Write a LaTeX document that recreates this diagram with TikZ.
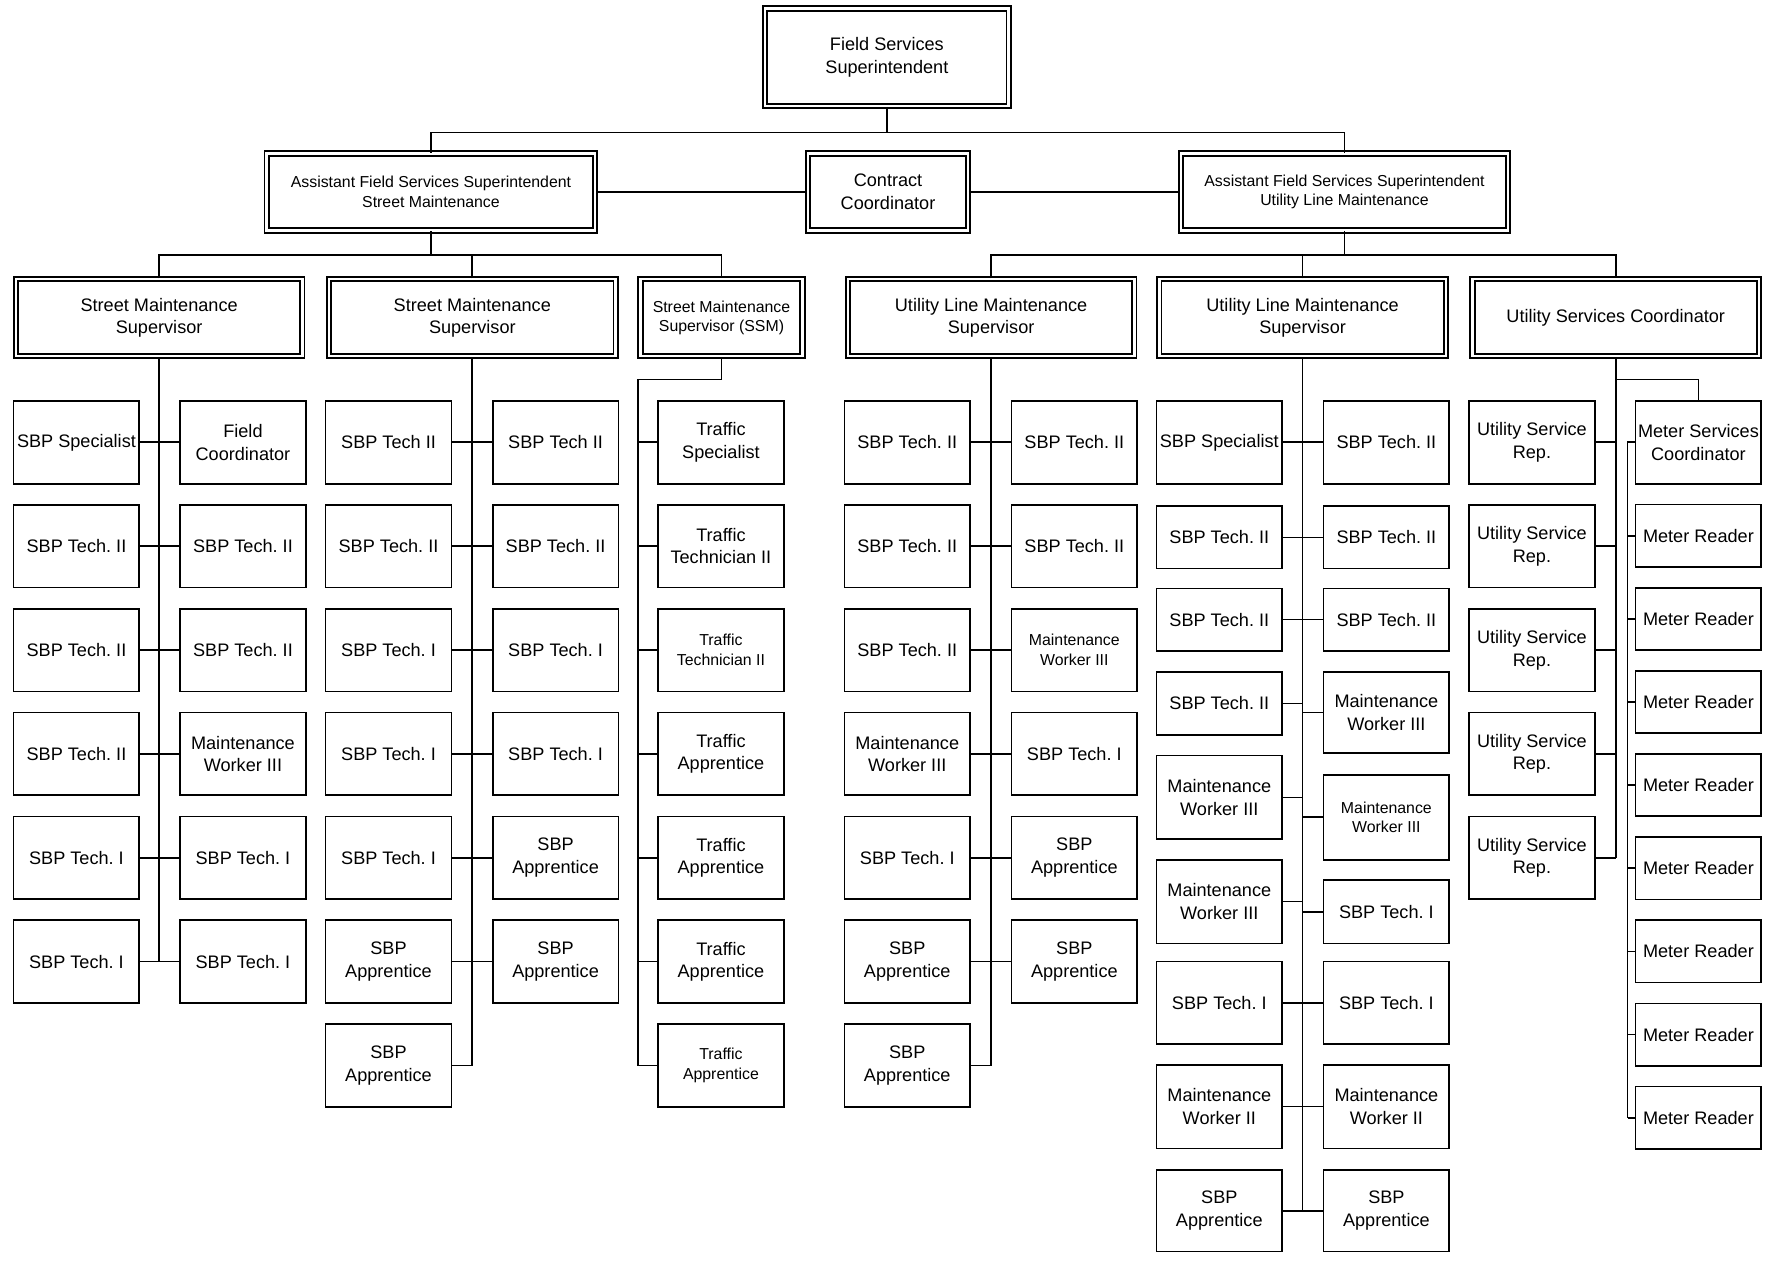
\documentclass[tikz,border=0pt]{standalone}
\usepackage{fontspec}
\setmainfont{Liberation Sans}
\usetikzlibrary{positioning}
\frenchspacing

\newcommand{\jobfont}{\fontsize{8}{10}\selectfont}
\newcommand{\jobfontsm}{\fontsize{7}{8.6}\selectfont}

\tikzset{
  job/.style={draw, line width=0.75pt, minimum width=55.5pt, minimum height=36.5pt,
    inner sep=0pt, align=center, font=\jobfont},
  jobsm/.style={job, font=\jobfontsm},
  lead/.style={draw, double, double distance=1.1pt, line width=0.8pt,
    inner sep=0pt, align=center, font=\jobfont, minimum height=34pt},
  link/.style={line width=0.75pt},
}

\begin{document}
\begin{tikzpicture}[x=0.5pt, y=-0.5pt]
  \useasboundingbox (0,0) rectangle (1568,1115);

  % Superintendent and assistants
  \node[lead, minimum width=107.5pt, minimum height=43pt] (fss) at (783,50.5) {Field Services\\Superintendent};
  \node[lead, minimum width=145pt, font=\jobfontsm] (afsm) at (380.5,169.5) {Assistant Field Services Superintendent\\Street Maintenance};
  \node[lead, minimum width=70.5pt] (cc) at (784,169.5) {Contract\\Coordinator};
  \node[lead, minimum width=144.5pt, font=\jobfontsm] (afum) at (1187,169.5) {Assistant Field Services Superintendent\\Utility Line Maintenance};

  % Supervisors
  \node[lead, minimum width=126.5pt] (sms1) at (140.5,280.5) {Street Maintenance\\Supervisor};
  \node[lead, minimum width=126.5pt] (sms2) at (417,280.5) {Street Maintenance\\Supervisor};
  \node[lead, minimum width=71.5pt, font=\jobfontsm] (ssm) at (637,280.5) {Street Maintenance\\Supervisor (SSM)};
  \node[lead, minimum width=126.5pt] (ulm1) at (875,280.5) {Utility Line Maintenance\\Supervisor};
  \node[lead, minimum width=126.5pt] (ulm2) at (1150,280.5) {Utility Line Maintenance\\Supervisor};
  \node[lead, minimum width=126.5pt] (usc) at (1426.5,280.5) {Utility Services Coordinator};

  % Upper connectors
  \coordinate (topbus) at (783,117);
  \draw[link] (fss.south) -- (topbus);
  \draw[link] (afsm.north) |- (topbus) -| (afum.north);
  \draw[link] (afsm.east) -- (cc.west);
  \draw[link] (cc.east) -- (afum.west);

  \coordinate (stbus) at (380.5,225);
  \draw[link] (afsm.south) -- (stbus);
  \draw[link] (sms1.north) |- (stbus) -| (ssm.north);
  \draw[link] (sms2.north) -- (sms2.north |- stbus);

  \coordinate (utbus) at (1187,225);
  \draw[link] (afum.south) -- (utbus);
  \draw[link] (ulm1.north) |- (utbus) -| (usc.north);
  \draw[link] (ulm2.north) -- (ulm2.north |- utbus);

  % Street maintenance, first crew
  \foreach \r/\y/\lbl in {1/390.5/SBP Specialist, 2/482.2/SBP Tech. II, 3/573.9/SBP Tech. II,
                          4/665.6/SBP Tech. II, 5/757.3/SBP Tech. I, 6/849/SBP Tech. I} {
    \node[job] (s1l\r) at (67.5,\y) {\lbl};
    \draw[link] (s1l\r.east) -- (s1l\r.east -| sms1.south);
  }
  \foreach \r/\y/\lbl in {1/390.5/{Field\\Coordinator}, 2/482.2/SBP Tech. II, 3/573.9/SBP Tech. II,
                          4/665.6/{Maintenance\\Worker III}, 5/757.3/SBP Tech. I, 6/849/SBP Tech. I} {
    \node[job] (s1r\r) at (214.5,\y) {\lbl};
    \draw[link] (s1r\r.west) -- (s1r\r.west -| sms1.south);
  }
  \draw[link] (sms1.south) -- (sms1.south |- s1l6.east);

  % Street maintenance, second crew
  \foreach \r/\y/\lbl in {1/390.5/SBP Tech II, 2/482.2/SBP Tech. II, 3/573.9/SBP Tech. I,
                          4/665.6/SBP Tech. I, 5/757.3/SBP Tech. I, 6/849/{SBP\\Apprentice},
                          7/940.7/{SBP\\Apprentice}} {
    \node[job] (s2l\r) at (343,\y) {\lbl};
    \draw[link] (s2l\r.east) -- (s2l\r.east -| sms2.south);
  }
  \foreach \r/\y/\lbl in {1/390.5/SBP Tech II, 2/482.2/SBP Tech. II, 3/573.9/SBP Tech. I,
                          4/665.6/SBP Tech. I, 5/757.3/{SBP\\Apprentice}, 6/849/{SBP\\Apprentice}} {
    \node[job] (s2r\r) at (490.5,\y) {\lbl};
    \draw[link] (s2r\r.west) -- (s2r\r.west -| sms2.south);
  }
  \draw[link] (sms2.south) -- (sms2.south |- s2l7.east);

  % Traffic crew
  \coordinate (ssmbend) at (563,335);
  \foreach \r/\y/\st/\lbl in {1/390.5/job/{Traffic\\Specialist}, 2/482.2/job/{Traffic\\Technician II},
                              3/573.9/jobsm/{Traffic\\Technician II}, 4/665.6/job/{Traffic\\Apprentice},
                              5/757.3/job/{Traffic\\Apprentice}, 6/849/job/{Traffic\\Apprentice},
                              7/940.7/jobsm/{Traffic\\Apprentice}} {
    \node[\st] (tr\r) at (636.5,\y) {\lbl};
    \draw[link] (tr\r.west) -- (tr\r.west -| ssmbend);
  }
  \draw[link] (ssm.south) |- (ssmbend) -- (ssmbend |- tr7.west);

  % Utility line maintenance, first crew
  \foreach \r/\y/\lbl in {1/390.5/SBP Tech. II, 2/482.2/SBP Tech. II, 3/573.9/SBP Tech. II,
                          4/665.6/{Maintenance\\Worker III}, 5/757.3/SBP Tech. I,
                          6/849/{SBP\\Apprentice}, 7/940.7/{SBP\\Apprentice}} {
    \node[job] (u1l\r) at (801,\y) {\lbl};
    \draw[link] (u1l\r.east) -- (u1l\r.east -| ulm1.south);
  }
  \foreach \r/\y/\st/\lbl in {1/390.5/job/SBP Tech. II, 2/482.2/job/SBP Tech. II,
                              3/573.9/jobsm/{Maintenance\\Worker III}, 4/665.6/job/SBP Tech. I,
                              5/757.3/job/{SBP\\Apprentice}, 6/849/job/{SBP\\Apprentice}} {
    \node[\st] (u1r\r) at (948.5,\y) {\lbl};
    \draw[link] (u1r\r.west) -- (u1r\r.west -| ulm1.south);
  }
  \draw[link] (ulm1.south) -- (ulm1.south |- u1l7.east);

  % Utility line maintenance, second crew
  \foreach \r/\y/\h/\lbl in {1/390.5/36.5/SBP Specialist, 2/474.5/27.5/SBP Tech. II,
                             3/547/27.5/SBP Tech. II, 4/621/28/SBP Tech. II,
                             5/704/37/{Maintenance\\Worker III}, 6/796/37/{Maintenance\\Worker III},
                             7/885.5/36.5/SBP Tech. I, 8/977/37/{Maintenance\\Worker II},
                             9/1069/36/{SBP\\Apprentice}} {
    \node[job, minimum height=\h pt] (u2l\r) at (1076.5,\y) {\lbl};
    \draw[link] (u2l\r.east) -- (u2l\r.east -| ulm2.south);
  }
  \foreach \r/\y/\h/\st/\lbl in {1/390.5/36.5/job/SBP Tech. II, 2/474.5/27.5/job/SBP Tech. II,
                                 3/547/27.5/job/SBP Tech. II, 4/629/36/job/{Maintenance\\Worker III},
                                 5/721.5/37.5/jobsm/{Maintenance\\Worker III}, 6/805/28/job/SBP Tech. I,
                                 7/885.5/36.5/job/SBP Tech. I, 8/977/37/job/{Maintenance\\Worker II},
                                 9/1069/36/job/{SBP\\Apprentice}} {
    \node[\st, minimum height=\h pt] (u2r\r) at (1224,\y) {\lbl};
    \draw[link] (u2r\r.west) -- (u2r\r.west -| ulm2.south);
  }
  \draw[link] (ulm2.south) -- (ulm2.south |- u2l9.east);

  % Utility services
  \foreach \r/\y in {1/390.5, 2/482.2, 3/573.9, 4/665.6, 5/757.3} {
    \node[job] (rep\r) at (1352.5,\y) {Utility Service\\Rep.};
    \draw[link] (rep\r.east) -- (rep\r.east -| usc.south);
  }
  \draw[link] (usc.south) -- (usc.south |- rep5.east);

  % Meter readers
  \coordinate (uscbend) at (1426.5,335);
  \node[job] (msc) at (1499.5,390.5) {Meter Services\\Coordinator};
  \draw[link] (uscbend) -| (msc.north);
  \coordinate (mtrunk) at (1437,390.5);
  \foreach \r/\y in {1/473, 2/546.4, 3/619.8, 4/693.2, 5/766.6, 6/840, 7/913.4, 8/986.8} {
    \node[job, minimum height=27.5pt] (mtr\r) at (1499.5,\y) {Meter Reader};
    \draw[link] (mtr\r.west) -- (mtr\r.west -| mtrunk);
  }
  \draw[link] (msc.west) -- (mtrunk) -- (mtrunk |- mtr8.west);
\end{tikzpicture}
\end{document}
